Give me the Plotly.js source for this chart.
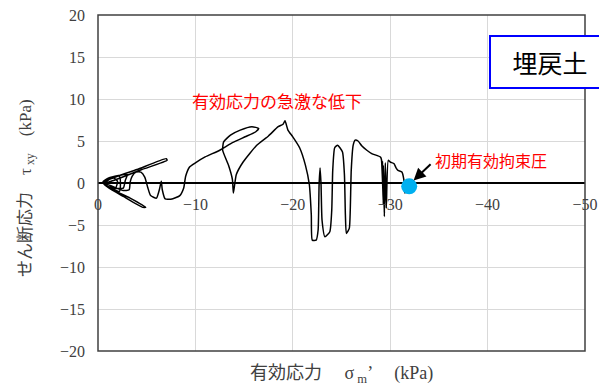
<!DOCTYPE html>
<html>
<head>
<meta charset="utf-8">
<script src="https://cdn.plot.ly/plotly-3.0.1.min.js"></script>
<style>
  html, body { margin: 0; padding: 0; background: #fff; }
  #chart { width: 599px; height: 389px; }
</style>
</head>
<body>
<div id="chart"></div>
<script>
// Effective stress path (time order, starting at the initial confining pressure)
const sigmaM = [
  -31.9, -31.5, -31.4, -31.2, -30.8, -30.6, -30.4, -30.0, -29.8,
  -29.6, -29.5, -29.4, -29.3, -29.4, -29.2, -29.3, -29.1,
  -29.0, -28.1, -27.6, -27.1, -26.7, -26.4, -26.2, -26.0, -25.9, -25.8, -25.5,
  -25.4, -25.3, -25.1, -24.6, -24.3, -24.1, -24.0, -23.8, -23.3,
  -23.0, -22.9, -22.8, -22.7, -22.6, -22.4, -22.0, -21.9, -21.7, -21.3,
  -20.7, -20.0, -19.5, -19.2, -19.0, -18.5, -17.5, -16.3, -14.9, -14.2, -13.9,
  -13.8, -13.4, -12.8, -12.9, -13.6, -14.6, -15.8, -16.5, -16.2, -15.1, -13.8,
  -12.5, -11.0, -10.0, -9.4, -9.0, -8.8, -8.4, -7.6, -6.9, -6.6, -6.5, -6.3,
  -6.0, -5.4, -5.1, -4.8, -4.4, -3.9, -3.5, -3.3, -3.2,
  -2.6, -1.5, -0.7, -1.3, -4.0, -7.0, -7.1, -4.5, -1.6, -0.6, -1.3, -3.3,
  -4.9, -4.6, -2.6, -1.0, -0.5, -1.1, -3.0, -2.8, -2.6, -1.3, -0.6, -1.2,
  -2.2, -2.3, -2.2, -1.0, -0.6, -1.6, -2.0, -1.8, -0.8, -0.5
];
const tauXY = [
  -0.4, -1.2, 0.4, 1.3, 1.5, 1.8, 2.3, 2.5, 2.7,
  -3.0, 2.4, -4.0, 2.0, -3.5, 2.6, -2.5, 2.8,
  3.1, 3.5, 3.9, 4.4, 5.0, 5.1, 4.5, 1.5, -3.2, -5.4, -6.0,
  -3.8, 1.0, 3.7, 4.5, 4.2, 1.5, -3.2, -5.8, -6.4,
  -4.4, -0.2, 1.8, -0.2, -5.6, -6.8, -6.8, -3.8, -0.2, 2.1,
  4.2, 5.5, 6.3, 7.4, 7.0, 6.7, 5.6, 4.5, 2.5, 1.0, -1.2,
  0.4, 2.1, 3.9, 4.9, 5.7, 6.3, 6.7, 6.5, 6.1, 5.5, 4.8,
  3.9, 3.1, 2.4, 1.9, 0.8, -0.6, -1.5, -1.9, -1.9, -0.8, 0.2, -0.8,
  -1.8, -1.5, -0.5, 0.7, 1.3, 1.3, 0.8, 0.1, -0.8,
  -0.9, -0.4, 0.0, 0.5, 1.6, 2.9, 2.7, 1.6, 0.3, -0.1, -0.7, -1.8,
  -2.9, -2.9, -1.6, -0.5, 0.1, 0.6, 1.0, 0.3, -0.6, -0.6, 0.0, 0.6,
  0.8, -0.3, -1.0, -0.4, 0.1, 0.6, 0.2, -0.6, -0.3, 0.1
];

// Initial effective confining pressure
const initSigma = [-31.95];
const initTau = [-0.4];

const xTicks = [0, -10, -20, -30, -40, -50];
const yTicks = [-20, -15, -10, -5, 0, 5, 10, 15, 20];

const serif = 'Liberation Serif, Noto Sans CJK JP, serif';
const gothic = 'Noto Sans CJK JP, sans-serif';

const traces = [
  {
    type: 'scatter', mode: 'lines',
    x: sigmaM, y: tauXY,
    line: { color: '#000000', width: 1.5, shape: 'spline', smoothing: 0.5 },
    hoverinfo: 'skip'
  },
  {
    type: 'scatter', mode: 'markers',
    x: initSigma, y: initTau,
    marker: { color: '#00b0f0', size: 16 },
    hoverinfo: 'skip'
  }
];

const layout = {
  width: 599, height: 389,
  margin: { l: 98, r: 14, t: 15, b: 38 },
  paper_bgcolor: '#ffffff',
  plot_bgcolor: '#ffffff',
  showlegend: false,
  xaxis: {
    range: [0, -50],
    tickvals: xTicks,
    anchor: 'free', position: 0.5,
    showgrid: true, gridcolor: '#d9d9d9', gridwidth: 1,
    zeroline: false, showline: false,
    ticks: '', ticklabelstandoff: 10,
    tickfont: { family: serif, size: 16, color: '#404040' }
  },
  yaxis: {
    range: [-20, 20],
    tickvals: yTicks,
    showgrid: true, gridcolor: '#d9d9d9', gridwidth: 1,
    zeroline: true, zerolinecolor: '#000000', zerolinewidth: 1.5,
    showline: false,
    ticks: '', ticklabelstandoff: 12,
    tickfont: { family: serif, size: 16, color: '#404040' }
  },
  shapes: [
    { type: 'rect', xref: 'paper', yref: 'paper', x0: 0, x1: 1, y0: 0, y1: 1,
      line: { color: '#404040', width: 1.5 }, layer: 'above' }
  ],
  annotations: [
    { xref: 'paper', yref: 'paper', x: 0.501, y: -0.071, showarrow: false,
      xanchor: 'center', yanchor: 'middle',
      text: '有効応力　 σ<sub> m</sub>’　 (kPa)',
      font: { family: serif, size: 18, color: '#404040' } },
    { xref: 'paper', yref: 'paper', x: -0.146, y: 0.485, showarrow: false,
      xanchor: 'center', yanchor: 'middle',
      textangle: -90,
      text: 'せん断応力　τ<sub> xy</sub>　(kPa)',
      font: { family: serif, size: 17, color: '#404040' } },
    { xref: 'x', yref: 'y', x: -18.4, y: 9.8, showarrow: false,
      xanchor: 'center', yanchor: 'middle',
      text: '有効応力の急激な低下',
      font: { family: gothic, size: 17, color: '#ff0000' } },
    { xref: 'x', yref: 'y', x: -40.3, y: 2.7, showarrow: false,
      xanchor: 'center', yanchor: 'middle',
      text: '初期有効拘束圧',
      font: { family: gothic, size: 16, color: '#ff0000' } },
    { xref: 'x', yref: 'y', x: -32.4, y: 0.3, text: ' ',
      showarrow: true, arrowhead: 2, arrowsize: 1.2, arrowwidth: 2,
      arrowcolor: '#000000', ax: 20, ay: -19 },
    { xref: 'paper', yref: 'paper', x: 0.928, y: 0.86, showarrow: false,
      xanchor: 'center', yanchor: 'middle',
      text: '埋戻土', width: 118, height: 50,
      bgcolor: '#ffffff', bordercolor: '#0000ff', borderwidth: 2, borderpad: 0,
      font: { family: gothic, size: 25, color: '#000000' } }
  ]
};

Plotly.newPlot('chart', traces, layout, { displayModeBar: false, staticPlot: true });
</script>
</body>
</html>
